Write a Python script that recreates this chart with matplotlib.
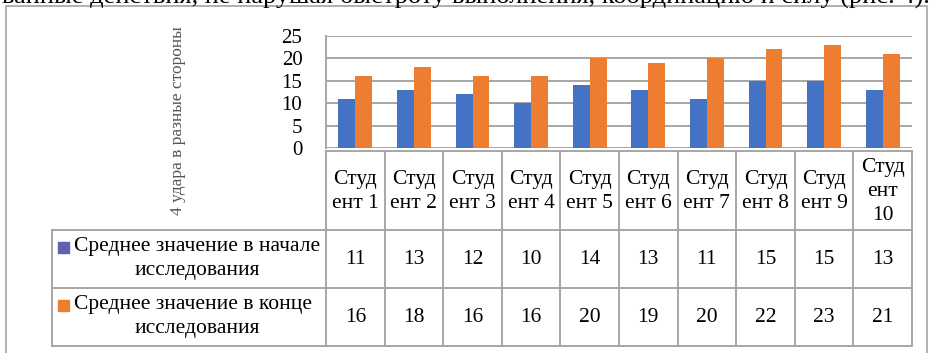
import matplotlib.pyplot as plt
from matplotlib.patches import Rectangle

students = ["Студ\nент 1", "Студ\nент 2", "Студ\nент 3", "Студ\nент 4", "Студ\nент 5",
            "Студ\nент 6", "Студ\nент 7", "Студ\nент 8", "Студ\nент 9", "Студ\nент\n10"]
start_values = [11, 13, 12, 10, 14, 13, 11, 15, 15, 13]
end_values = [16, 18, 16, 16, 20, 19, 20, 22, 23, 21]
series_names = [("Среднее значение в начале", "исследования"),
                ("Среднее значение в конце", "исследования")]
y_ticks = [0, 5, 10, 15, 20, 25]
y_title = "4 удара в разные стороны"
caption = "ванные действия, не нарушая быстроту выполнения, координацию и силу (рис. 4)."

BLUE = "#4472C4"
ORANGE = "#ED7D31"
GRID = "#A6A6A6"
SERIF = ["Liberation Serif", "DejaVu Serif"]

W, H = 930, 353
fig = plt.figure(figsize=(W / 100, H / 100), dpi=100)

# overlay in pixel coordinates for frame, table and labels
canvas = fig.add_axes([0, 0, 1, 1])
canvas.set_xlim(0, W)
canvas.set_ylim(H, 0)
canvas.axis("off")

# plot area in pixels
px_left, px_right, px_top, px_zero = 326, 912, 36, 148
ax = fig.add_axes([px_left / W, 1 - px_zero / H, (px_right - px_left) / W, (px_zero - px_top) / H])
n = len(students)
pos = list(range(n))
bw = 0.29
ax.bar([p - bw / 2 for p in pos], start_values, width=bw, color=BLUE, zorder=2)
ax.bar([p + bw / 2 for p in pos], end_values, width=bw, color=ORANGE, zorder=2)
ax.set_xlim(-0.5, n - 0.5)
ax.set_ylim(0, 25)
ax.set_yticks(y_ticks)
ax.set_yticklabels([str(t) for t in y_ticks], family=SERIF, fontsize=15)
ax.set_xticks([])
ax.tick_params(axis="y", length=0, pad=17)
ax.grid(axis="y", color=GRID, linewidth=1.4, zorder=1)
for side in ("top", "right", "bottom"):
    ax.spines[side].set_visible(False)
ax.spines["left"].set_color(GRID)
ax.spines["left"].set_linewidth(1.4)
ax.patch.set_alpha(0)

# outer frame
canvas.plot([6, 6, 927, 927], [H, 6, 6, H], color="#B0B0B0", lw=1.4, clip_on=False)

# caption line running off the top edge
canvas.text(2, 3, caption, family=SERIF, fontsize=19, ha="left", va="baseline", color="black")

# y-axis title
canvas.text(178, 121, y_title, family=SERIF, fontsize=12.5, rotation=90,
            ha="center", va="center", color="#555555")

# data table
col_w = (px_right - px_left) / n
tab_top, row1, row2, tab_bot = 151, 230, 288, 346
lab_left = 52
lw = 1.4
canvas.plot([px_left, px_right], [tab_top, tab_top], color=GRID, lw=lw)
for y in (row1, row2, tab_bot):
    canvas.plot([lab_left, px_right], [y, y], color=GRID, lw=lw)
canvas.plot([lab_left, lab_left], [row1, tab_bot], color=GRID, lw=lw)
for i in range(n + 1):
    x = px_left + i * col_w
    canvas.plot([x, x], [tab_top, tab_bot], color=GRID, lw=lw)

for i, name in enumerate(students):
    cx = px_left + (i + 0.5) * col_w
    canvas.text(cx, (tab_top + row1) / 2 + 1, name, family=SERIF, fontsize=15.5,
                ha="center", va="center", linespacing=1.35)
    canvas.text(cx, (row1 + row2) / 2, str(start_values[i]), family=SERIF,
                fontsize=15.5, ha="center", va="center")
    canvas.text(cx, (row2 + tab_bot) / 2 + 1, str(end_values[i]), family=SERIF,
                fontsize=15.5, ha="center", va="center")

for (top, bot), (line1, line2), key in zip([(row1, row2), (row2, tab_bot)], series_names,
                                           ["#5B63B0", ORANGE]):
    canvas.text(74, top + 17, line1, family=SERIF, fontsize=15.5, ha="left", va="center")
    canvas.text(197, top + 41, line2, family=SERIF, fontsize=15.5, ha="center", va="center")
    canvas.add_patch(Rectangle((58, top + 12), 11, 11, color=key))

fig.savefig("out.png", dpi=100)
